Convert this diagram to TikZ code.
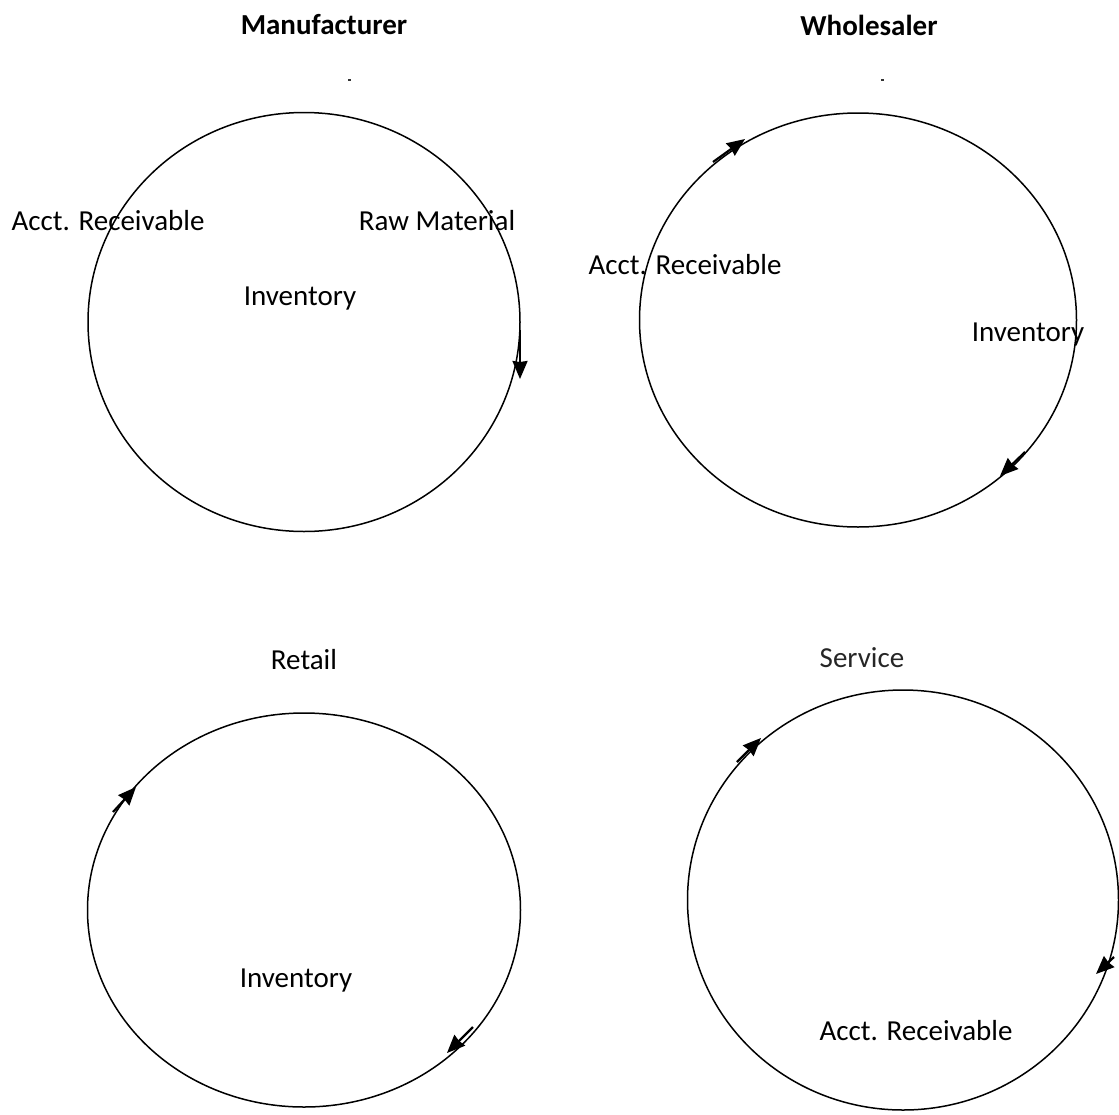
\documentclass[tikz,border=0pt]{standalone}
\usepackage{fontspec}
\setmainfont{Carlito}
\usetikzlibrary{shapes.geometric,arrows.meta}
\begin{document}
\begin{tikzpicture}[x=1pt,y=-1pt,
  cyc/.style={draw,ellipse,line width=1.5pt,inner sep=0pt},
  lbl/.style={font=\fontsize{29}{34}\selectfont,inner sep=0pt},
  ttl/.style={font=\fontsize{29}{34}\selectfont\bfseries,inner sep=0pt},
  flow/.style={line width=2.2pt,-{Stealth[length=18pt,width=15pt,inset=1pt]}},
  tick/.style={line width=1.3pt,black!80}]
\useasboundingbox (0,0) rectangle (1119,1114);
% circles
\node[cyc,minimum width=432pt,minimum height=419pt] (manu) at (304,322) {};
\node[cyc,minimum width=437pt,minimum height=414pt] (whol) at (858,320) {};
\node[cyc,minimum width=433pt,minimum height=394pt] (reta) at (304,910) {};
\node[cyc,minimum width=431pt,minimum height=420pt] (serv) at (903,900) {};
% titles
\node[ttl] (tmanu) at (324,25) {Manufacturer};
\node[ttl] (twhol) at (869,25) {Wholesaler};
\node[lbl] (treta) at (304,660) {Retail};
\node[lbl,text=black!85] (tserv) at (862,658) {Service};
% small marks
\coordinate (m1a) at (348,80); \coordinate (m1b) at (351,80);
\coordinate (m2a) at (881,80); \coordinate (m2b) at (884,80);
\draw[tick] (m1a) -- (m1b);
\draw[tick] (m2a) -- (m2b);
% labels
\node[lbl] (mar) at (108,221) {Acct. Receivable};
\node[lbl] (mrm) at (437,221) {Raw Material};
\node[lbl] (minv) at (300,299) {Inventory};
\node[lbl] (war) at (685,265) {Acct. Receivable};
\node[lbl] (winv) at (1028,335) {Inventory};
\node[lbl] (rinv) at (296,981) {Inventory};
\node[lbl] (sar) at (916,1031) {Acct. Receivable};
% arrows
\coordinate (a1s) at (520,330); \coordinate (a1e) at (520,379);
\coordinate (a2s) at (713,162); \coordinate (a2e) at (745,139);
\coordinate (a3s) at (1025,452); \coordinate (a3e) at (1000,476);
\coordinate (a4s) at (113,812); \coordinate (a4e) at (136,787);
\coordinate (a5s) at (473,1027); \coordinate (a5e) at (447,1053);
\coordinate (a6s) at (737,762); \coordinate (a6e) at (761,738);
\coordinate (a7s) at (1114,957); \coordinate (a7e) at (1096,974);
\draw[flow] (a1s) -- (a1e);
\draw[flow] (a2s) -- (a2e);
\draw[flow] (a3s) -- (a3e);
\draw[flow] (a4s) -- (a4e);
\draw[flow] (a5s) -- (a5e);
\draw[flow] (a6s) -- (a6e);
\draw[flow] (a7s) -- (a7e);
\end{tikzpicture}
\end{document}
